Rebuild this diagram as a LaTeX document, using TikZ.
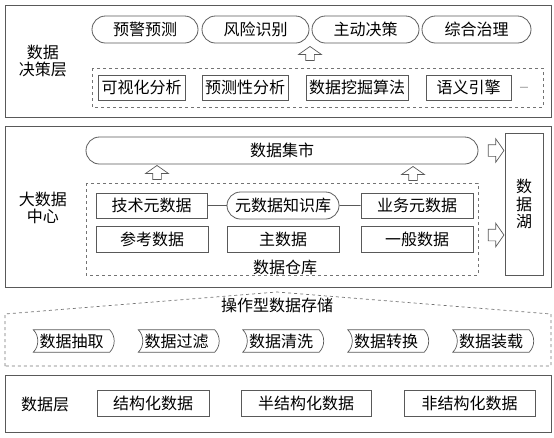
\documentclass[tikz,border=0pt]{standalone}
\usepackage{fontspec}
\newfontfamily\cjk{Noto Sans CJK SC}
\usetikzlibrary{shapes.misc,shapes.arrows}

\begin{document}
\begin{tikzpicture}[x=1pt,y=-1pt,
  every node/.style={font=\cjk\fontsize{16}{17.5}\selectfont},
  layer/.style={draw=black!65, line width=0.9pt},
  dashbox/.style={draw=black!55, dashed, line width=0.7pt},
  box/.style={draw=black!65, line width=0.8pt, inner sep=0pt, minimum height=25pt},
  pill/.style={rounded rectangle, draw=black!65, line width=0.8pt, inner sep=0pt, minimum height=27pt},
  etl/.style={inner sep=0pt, minimum width=76pt, minimum height=22pt},
  uparrow/.style={single arrow, draw=black!65, line width=0.7pt, inner sep=4pt,
    shape border rotate=90, single arrow head extend=7pt, single arrow tip angle=110, minimum height=14pt},
  rightarrow/.style={single arrow, draw=black!65, line width=0.7pt, inner sep=5.5pt,
    single arrow head extend=6pt, single arrow tip angle=110, minimum height=14pt}]
  \useasboundingbox (0,0) rectangle (554,437);
%Decision layer
  \draw[layer] (5,5) rectangle (551,117);
  \node[align=center] (declabel) at (43,61) {数据\\决策层};
  \node[pill, minimum width=106pt] (warn) at (145,29.5) {预警预测};
  \node[pill, minimum width=107pt] (risk) at (255.5,29.5) {风险识别};
  \node[pill, minimum width=107pt] (act) at (365.5,29.5) {主动决策};
  \node[pill, minimum width=109pt] (gov) at (476.5,29.5) {综合治理};
  \node[uparrow] (uparr1) at (310,55) {};
  \draw[dashbox] (92,68) rectangle (543,107);
  \node[box, minimum width=87pt] (vis) at (141.5,87.5) {可视化分析};
  \node[box, minimum width=86pt] (pred) at (245,87.5) {预测性分析};
  \node[box, minimum width=102pt] (mine) at (357,87.5) {数据挖掘算法};
  \node[box, minimum width=85pt] (sem) at (468.5,87.5) {语义引擎};
  \node[font=\cjk\fontsize{10}{12}\selectfont, text=black!60] (more) at (524,89) {—};
%Big data center
  \draw[layer] (5,126) rectangle (551,287);
  \node[align=center] (centlabel) at (43,208) {大数据\\中心};
  \node[pill, minimum width=392pt] (mart) at (282,150.5) {数据集市};
  \node[rightarrow] (rarr1) at (494,150.5) {};
  \node[rightarrow] (rarr2) at (494,235) {};
  \node[box, align=center, minimum width=38pt, minimum height=142pt] (lake) at (524,204) {数\\据\\湖};
  \node[uparrow] (uparr2) at (157,174) {};
  \node[uparrow] (uparr3) at (413,175) {};
  \draw[dashbox] (86,183) rectangle (478,275);
  \node[box, minimum width=111pt] (tech) at (151.5,205.5) {技术元数据};
  \node[pill, minimum width=112pt] (meta) at (283,205.5) {元数据知识库};
  \node[box, minimum width=112pt] (biz) at (417,205.5) {业务元数据};
  \node[box, minimum width=112pt, minimum height=26pt] (ref) at (152,239) {参考数据};
  \node[box, minimum width=112pt, minimum height=26pt] (master) at (283,239) {主数据};
  \node[box, minimum width=112pt, minimum height=26pt] (gen) at (417,239) {一般数据};
  \node (whlabel) at (285,267) {数据仓库};
  \draw[black!65, line width=0.8pt] (tech) -- (meta);
  \draw[black!65, line width=0.8pt] (meta) -- (biz);
%Operational data store
  \draw[dashbox] (5,366) -- (5,314) -- (277,292) -- (551,314) -- (551,366) -- cycle;
  \node (odslabel) at (277,305) {操作型数据存储};
  \foreach \x/\t [count=\i] in {71.5/数据抽取,176.5/数据过滤,281/数据清洗,386/数据转换,491/数据装载}
    \node[etl] (etl\i) at (\x,341) {\t};
  \foreach \i in {1,...,5}
    \draw[black!65, line width=0.7pt] (etl\i.north west) .. controls +(6,6) and +(6,-6) .. (etl\i.south west)
      -- (etl\i.south east) .. controls +(6,-6) and +(6,6) .. (etl\i.north east) -- cycle;
%Data layer
  \draw[layer] (5,375) rectangle (551,432);
  \node (datalabel) at (45,404) {数据层};
  \node[box, minimum width=112pt, minimum height=26pt] (struct) at (153,403) {结构化数据};
  \node[box, minimum width=130pt, minimum height=26pt] (semi) at (306,403) {半结构化数据};
  \node[box, minimum width=131pt, minimum height=26pt] (unstruct) at (469.5,403) {非结构化数据};
\end{tikzpicture}
\end{document}
